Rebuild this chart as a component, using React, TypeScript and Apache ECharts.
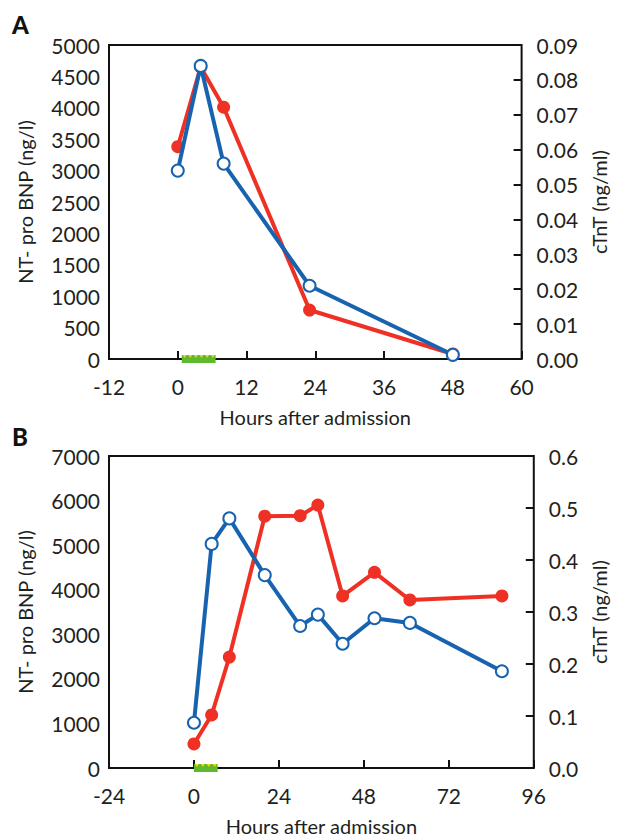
import React, { useEffect, useRef } from "react";
import * as echarts from "echarts";

const hoursA = [0, 4, 8, 23, 48];
const ntproA = [3380, 4650, 4010, 780, 80];
const ctntA = [0.054, 0.084, 0.056, 0.021, 0.0012];
const treatA = [0.7, 6.6];

const hoursB = [0, 5, 10, 20, 30, 35, 42, 51, 61, 87];
const ntproB = [540, 1190, 2490, 5650, 5660, 5900, 3860, 4390, 3770, 3860];
const ctntB = [0.087, 0.431, 0.48, 0.371, 0.273, 0.295, 0.239, 0.288, 0.279, 0.186];
const treatB = [0, 6.7];

const xTitle = "Hours after admission";
const leftTitle = "NT- pro BNP (ng/l)";
const rightTitle = "cTnT (ng/ml)";

const FONT = "Lato";
const TXT = "#231f20";
const RED = "#ee3124";
const BLUE = "#1763b0";

function pairs(xs: number[], ys: number[]) {
  return xs.map((x, i) => [x, ys[i]]);
}

function treatRender(params: any, api: any) {
  const x0 = api.value(0);
  const x1 = api.value(1);
  const p0 = api.coord([x0, 0]);
  const p1 = api.coord([x1, 0]);
  const y = p0[1];
  const children: any[] = [
    {
      type: "rect",
      shape: { x: p0[0], y: y - 4, width: p1[0] - p0[0], height: 8 },
      style: { fill: "#5dba2f" },
    },
  ];
  const w = p1[0] - p0[0];
  const n = Math.max(1, Math.floor(w / 5));
  const step = w / n;
  for (let i = 0; i < n; i++) {
    const cx = p0[0] + step * (i + 0.5);
    children.push({
      type: "polygon",
      shape: { points: [[cx - 2, y - 4], [cx + 2, y - 4], [cx, y - 1]] },
      style: { fill: "#f2d41c" },
    });
  }
  return { type: "group", children };
}

export default function App() {
  const ref = useRef<HTMLDivElement>(null);
  useEffect(() => {
    if (!ref.current) return;
    const chart = echarts.init(ref.current, undefined, { renderer: "svg" });
    const lbl = { color: TXT, fontFamily: FONT, fontSize: 21 };
    const nameStyle = { color: TXT, fontFamily: FONT, fontSize: 20 };
    const plain = (v: number) => String(v);
    const xAxisBase = (gi: number, min: number, max: number, interval: number) => ({
      type: "value",
      gridIndex: gi,
      min,
      max,
      interval,
      axisLine: { show: false },
      axisTick: { show: true, inside: true, length: 8, lineStyle: { color: "#111", width: 2 } },
      splitLine: { show: false },
      axisLabel: { ...lbl, margin: 17, formatter: plain },
      name: xTitle,
      nameLocation: "middle",
      nameGap: 48,
      nameTextStyle: nameStyle,
    });
    const leftAxis = (gi: number, max: number, interval: number) => ({
      type: "value",
      gridIndex: gi,
      min: 0,
      max,
      interval,
      position: "left",
      axisLine: { show: false },
      axisTick: { show: false },
      splitLine: { show: false },
      axisLabel: { ...lbl, margin: 9, formatter: plain },
      name: leftTitle,
      nameLocation: "middle",
      nameRotate: 90,
      nameGap: 74,
      nameTextStyle: nameStyle,
    });
    const rightAxis = (gi: number, max: number, interval: number, dec: number, gap: number, margin: number) => ({
      type: "value",
      gridIndex: gi,
      min: 0,
      max,
      interval,
      position: "right",
      axisLine: { show: false },
      axisTick: { show: true, inside: true, length: 8, lineStyle: { color: "#111", width: 2 } },
      splitLine: { show: false },
      axisLabel: { ...lbl, margin, formatter: (v: number) => v.toFixed(dec) },
      name: rightTitle,
      nameLocation: "middle",
      nameRotate: 90,
      nameGap: gap,
      nameTextStyle: nameStyle,
    });
    const redSeries = (xi: number, yi: number, data: number[][]) => ({
      type: "line",
      xAxisIndex: xi,
      yAxisIndex: yi,
      data,
      symbol: "circle",
      symbolSize: 13,
      lineStyle: { color: RED, width: 4 },
      itemStyle: { color: RED, borderColor: RED, borderWidth: 0 },
      z: 3,
    });
    const blueSeries = (xi: number, yi: number, data: number[][]) => ({
      type: "line",
      xAxisIndex: xi,
      yAxisIndex: yi,
      data,
      symbol: "circle",
      symbolSize: 12,
      showAllSymbol: true,
      lineStyle: { color: BLUE, width: 4 },
      itemStyle: { color: "#ffffff", borderColor: BLUE, borderWidth: 2 },
      z: 4,
    });
    chart.setOption({
      animation: false,
      backgroundColor: "#ffffff",
      grid: [
        { left: 109, top: 45, width: 424, height: 314, show: true, borderColor: "#111", borderWidth: 2, backgroundColor: "transparent" },
        { left: 109, top: 456, width: 434, height: 315, show: true, borderColor: "#111", borderWidth: 2, backgroundColor: "transparent" },
      ],
      xAxis: [xAxisBase(0, -12, 60, 12), xAxisBase(1, -24, 96, 24)],
      yAxis: [
        leftAxis(0, 5000, 500),
        rightAxis(0, 0.09, 0.01, 2, 58, 15),
        leftAxis(1, 7000, 1000),
        rightAxis(1, 0.6, 0.1, 1, 48, 15),
      ],
      graphic: [
        { type: "text", left: 12, top: 12, style: { text: "A", font: "900 24px " + FONT, fill: "#111" } },
        { type: "text", left: 12, top: 424, style: { text: "B", font: "900 24px " + FONT, fill: "#111" } },
      ],
      series: [
        { type: "custom", xAxisIndex: 0, yAxisIndex: 0, data: [treatA], renderItem: treatRender, clip: false, z: 5 },
        redSeries(0, 0, pairs(hoursA, ntproA)),
        blueSeries(0, 1, pairs(hoursA, ctntA)),
        { type: "custom", xAxisIndex: 1, yAxisIndex: 2, data: [treatB], renderItem: treatRender, clip: false, z: 5 },
        redSeries(1, 2, pairs(hoursB, ntproB)),
        blueSeries(1, 3, pairs(hoursB, ctntB)),
      ],
    });
    return () => chart.dispose();
  }, []);
  return (
    <div
      ref={ref}
      style={{ position: "absolute", left: 0, top: 0, width: 617, height: 837, background: "#fff" }}
    />
  );
}
